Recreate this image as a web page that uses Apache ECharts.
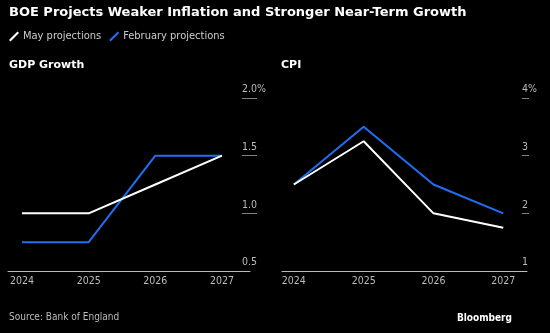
<!DOCTYPE html>
<html><head><meta charset="utf-8">
<script src="https://cdn.jsdelivr.net/npm/echarts@6/dist/echarts.min.js"></script>
<style>html,body{margin:0;padding:0;background:#000;}#c{width:550px;height:333px;}</style>
</head><body><div id="c"></div>
<script>
const years = [2024, 2025, 2026, 2027];
const gdpMay = [1.0, 1.0, 1.25, 1.5];
const gdpFeb = [0.75, 0.75, 1.5, 1.5];
const cpiMay = [2.5, 3.25, 2.0, 1.75];
const cpiFeb = [2.5, 3.5, 2.5, 2.0];
const gdpTicks = [0.5, 1.0, 1.5, 2.0];
const cpiTicks = [1, 2, 3, 4];

const FONT = '"DejaVu Sans Condensed", "DejaVu Sans", sans-serif';
const BFONT = '"DejaVu Sans", sans-serif';
const WHITE = '#ffffff', BLUE = '#1f6ff5';
const chart = echarts.init(document.getElementById('c'), null, {renderer:'canvas'});
const idx = years.map((y,i)=>i);
function pts(arr){ return arr.map((v,i)=>[i,v]); }
function xAx(gi, min, max){
  return {type:'value', gridIndex:gi, min:min, max:max,
    axisLine:{show:true, lineStyle:{color:'#bbbbbb', width:1}},
    axisTick:{show:false}, splitLine:{show:false},
    axisLabel:{customValues:idx, formatter:v=>String(years[Math.round(v)]), color:'#bbbbbb', fontSize:10.5, fontFamily:FONT, margin:5}};
}
function hiddenX(gi){ return {type:'value', gridIndex:gi, min:0, max:1, show:false}; }
function hiddenY(gi, min, max){ return {type:'value', gridIndex:gi, min:min, max:max, show:false}; }
function tickY(gi, ticks, fmt){
  const step = ticks[1]-ticks[0];
  return {type:'value', gridIndex:gi, position:'left', min:ticks[0], max:ticks[ticks.length-1], interval:step,
    axisLine:{show:false}, axisTick:{show:false},
    splitLine:{show:true, showMinLine:false, lineStyle:{color:'#808080', width:1}},
    axisLabel:{inside:true, formatter:fmt, color:'#bbbbbb', fontSize:10.5, fontFamily:FONT, margin:0, align:'left', verticalAlign:'bottom', padding:[0,0,3,0], showMinLabel:true, showMaxLabel:true}};
}
function line(name, color, data, xi, yi){
  return {name:name, type:'line', xAxisIndex:xi, yAxisIndex:yi, data:data, symbol:'none',
    lineStyle:{color:color, width:2}, itemStyle:{color:color}, z: color===WHITE?3:2, animation:false};
}
const icon = 'path://M0,9 L8,1 L9.4,2.4 L1.4,10.4 Z';
chart.setOption({
  backgroundColor:'#000000',
  animation:false,
  title:[
    {text:'BOE Projects Weaker Inflation and Stronger Near-Term Growth', left:4, top:1, textStyle:{color:'#fff', fontSize:13, fontWeight:'bold', fontFamily:BFONT}},
    {text:'GDP Growth', left:4, top:55, textStyle:{color:'#fff', fontSize:11, fontWeight:'bold', fontFamily:BFONT}},
    {text:'CPI', left:276, top:55, textStyle:{color:'#fff', fontSize:11, fontWeight:'bold', fontFamily:BFONT}},
    {text:'Source: Bank of England', left:4, top:307, textStyle:{color:'#bbbbbb', fontSize:10, fontWeight:'normal', fontFamily:FONT}},
    {text:'Bloomberg', right:33, top:308, textStyle:{color:'#fff', fontSize:10, fontWeight:'bold', fontFamily:FONT}}
  ],
  legend:{left:4, top:26, itemWidth:10, itemHeight:10, itemGap:8, icon:icon,
    textStyle:{color:'#cccccc', fontSize:11, fontFamily:FONT, padding:[0,0,0,-1]},
    data:[{name:'May projections', itemStyle:{color:WHITE}},{name:'February projections', itemStyle:{color:BLUE}}]},
  grid:[
    {left:8, right:300, top:98, bottom:62},
    {left:282, right:23, top:98, bottom:62},
    {left:242, right:293, top:98, bottom:62},
    {left:522, right:21, top:98, bottom:62}
  ],
  xAxis:[xAx(0,-0.21,3.42), xAx(1,-0.17,3.34), hiddenX(2), hiddenX(3)],
  yAxis:[
    hiddenY(0,gdpTicks[0],gdpTicks[3]),
    hiddenY(1,cpiTicks[0],cpiTicks[3]),
    tickY(2,gdpTicks,v=>v===2?'2.0%':v.toFixed(1)),
    tickY(3,cpiTicks,v=>v===4?'4%':String(v))
  ],
  series:[
    line('February projections', BLUE, pts(gdpFeb), 0, 0),
    line('May projections', WHITE, pts(gdpMay), 0, 0),
    line('February projections', BLUE, pts(cpiFeb), 1, 1),
    line('May projections', WHITE, pts(cpiMay), 1, 1)
  ]
});
</script></body></html>
